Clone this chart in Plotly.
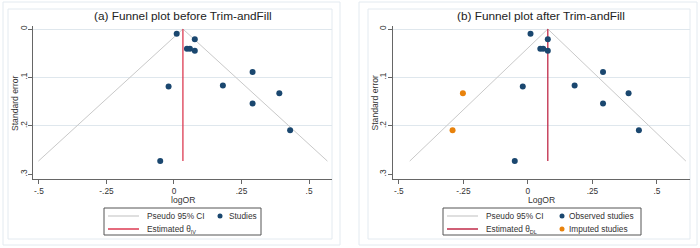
import plotly.graph_objects as go

# ---------------- data ----------------
se_obs = [0.010, 0.021, 0.041, 0.041, 0.045, 0.089, 0.119, 0.117, 0.133, 0.154, 0.209, 0.273]
logor_obs = [0.010, 0.077, 0.048, 0.059, 0.077, 0.291, -0.020, 0.181, 0.390, 0.291, 0.430, -0.051]

se_imp = [0.133, 0.209]
logor_imp = [-0.252, -0.292]

theta_a = 0.033   # estimated theta (IV), panel a
theta_b = 0.077   # estimated theta (DL), panel b

funnel_se = [0.273, 0.0, 0.273]
funnel_x_a = [-0.502, theta_a, 0.568]
funnel_x_b = [-0.458, theta_b, 0.612]
theta_se = [0.0, 0.273]

xtick_vals = [-0.5, -0.25, 0, 0.25, 0.5]
xtick_text = ["-.5", "-.25", "0", ".25", ".5"]
ytick_vals = [0, 0.1, 0.2, 0.3]
ytick_text = ["0", ".1", ".2", ".3"]
grid_vals = [0, 0.1, 0.2]

W, H = 700, 248
NAVY = "#1a476f"
ORANGE = "#e8820c"
GRAYLINE = "#c9c9c9"
RED_A = "#dc3a52"
RED_B = "#c02a48"
FONT = "Liberation Sans, Arial, sans-serif"
TXT = "#333333"

fig = go.Figure()

# panel a
fig.add_trace(go.Scatter(x=funnel_x_a, y=funnel_se, mode="lines",
                         line=dict(color=GRAYLINE, width=1), name="Pseudo 95% CI",
                         xaxis="x", yaxis="y"))
fig.add_trace(go.Scatter(x=[theta_a, theta_a], y=theta_se, mode="lines",
                         line=dict(color=RED_A, width=1.3), name="Estimated θ IV",
                         xaxis="x", yaxis="y"))
fig.add_trace(go.Scatter(x=logor_obs, y=se_obs, mode="markers",
                         marker=dict(color=NAVY, size=6), name="Studies",
                         xaxis="x", yaxis="y"))

# panel b
fig.add_trace(go.Scatter(x=funnel_x_b, y=funnel_se, mode="lines",
                         line=dict(color=GRAYLINE, width=1), name="Pseudo 95% CI",
                         xaxis="x2", yaxis="y2"))
fig.add_trace(go.Scatter(x=[theta_b, theta_b], y=theta_se, mode="lines",
                         line=dict(color=RED_B, width=1.3), name="Estimated θ DL",
                         xaxis="x2", yaxis="y2"))
fig.add_trace(go.Scatter(x=logor_obs, y=se_obs, mode="markers",
                         marker=dict(color=NAVY, size=6), name="Observed studies",
                         xaxis="x2", yaxis="y2"))
fig.add_trace(go.Scatter(x=logor_imp, y=se_imp, mode="markers",
                         marker=dict(color=ORANGE, size=6), name="Imputed studies",
                         xaxis="x2", yaxis="y2"))

ydom = [1 - 179 / H, 1 - 26 / H]

def xax(dom, rng):
    return dict(domain=dom, range=rng, tickvals=xtick_vals, ticktext=xtick_text,
                ticks="outside", ticklen=4, tickcolor="#666", tickwidth=1,
                showline=True, linecolor="#666", linewidth=1, showgrid=False, zeroline=False,
                tickfont=dict(size=8.3, color=TXT, family=FONT))

def yax(anchor):
    return dict(domain=ydom, range=[0.31, -0.0062], tickvals=ytick_vals, ticktext=ytick_text,
                tickangle=-90, ticks="outside", ticklen=4, tickcolor="#666", tickwidth=1,
                showline=True, linecolor="#666", linewidth=1, showgrid=False, zeroline=False,
                ticklabelstandoff=-2,
                minor=dict(tickvals=grid_vals, showgrid=True, gridcolor="#dfe7ed", gridwidth=1, ticks=""),
                tickfont=dict(size=8.3, color=TXT, family=FONT), anchor=anchor)

fig.update_layout(
    width=W, height=H, margin=dict(l=0, r=0, t=0, b=0),
    paper_bgcolor="white", plot_bgcolor="white",
    font=dict(family=FONT, color=TXT),
    xaxis=xax([33 / W, 332 / W], [-0.522, 0.585]),
    yaxis=yax("x"),
    xaxis2=xax([392.7 / W, 690 / W], [-0.524, 0.628]),
    yaxis2=yax("x2"),
    showlegend=False,
)

def px_x(v):
    return v / W

def px_y(v):
    return 1 - v / H

def text(s, x, y, size=8.3, anchor="left", angle=0, color=TXT, xref="paper"):
    fig.add_annotation(text=s, xref=xref, yref="paper", x=x, y=y, xanchor=anchor, yanchor="middle",
                       showarrow=False, textangle=angle, font=dict(size=size, color=color, family=FONT))

# titles
text("(a) Funnel plot before Trim-andFill", 0.5, px_y(16), size=11.8, anchor="center", color="#222", xref="x domain")
text("(b) Funnel plot after Trim-andFill", 0.5, px_y(16), size=11.8, anchor="center", color="#222", xref="x2 domain")

# axis titles
text("logOR", 0.5, px_y(200), size=8.6, anchor="center", xref="x domain")
text("LogOR", 0.5, px_y(200), size=8.6, anchor="center", xref="x2 domain")
text("Standard error", px_x(14.5), px_y(102.5), size=8.6, anchor="center", angle=-90)
text("Standard error", px_x(374), px_y(102.5), size=8.6, anchor="center", angle=-90)

# panel frames and legend boxes (decoration)
FR = "#e3eaf0"
def rect(x0, y0, x1, y1, color, width=1, fill=None):
    fig.add_shape(type="rect", xref="paper", yref="paper", x0=px_x(x0), x1=px_x(x1),
                  y0=px_y(y1), y1=px_y(y0), line=dict(color=color, width=width),
                  fillcolor=fill, layer="below")

rect(3, 2, 340, 245, FR)
rect(8, 9, 332, 239, FR)
rect(359, 2, 697, 245, FR)
rect(368, 9, 690, 239, FR)

# legends (key samples taken from the trace styles)
def legend_line(x0, x1, y, color):
    fig.add_shape(type="line", xref="paper", yref="paper", x0=px_x(x0), x1=px_x(x1),
                  y0=px_y(y), y1=px_y(y), line=dict(color=color, width=1.5))

def legend_dot(x, y, color, r=2.5):
    fig.add_shape(type="circle", xref="paper", yref="paper", x0=px_x(x - r), x1=px_x(x + r),
                  y0=px_y(y + r), y1=px_y(y - r), line=dict(color=color, width=0), fillcolor=color)

R1, R2 = 216, 229
SUB = '<sub><span style="font-size:5.5px">{}</span></sub>'
# legend a
rect(104, 208, 261, 235, "#555")
legend_line(108, 139, R1, "#d4d4d4")
legend_line(108, 139, R2, RED_A)
text("Pseudo 95% CI", px_x(145), px_y(R1))
text("Estimated θ" + SUB.format("IV"), px_x(145), px_y(R2 + 0.5))
legend_dot(220, R1, NAVY)
text("Studies", px_x(227), px_y(R1))

# legend b
rect(443, 208, 641, 235, "#555")
legend_line(447, 478, R1, "#d4d4d4")
legend_line(447, 478, R2, RED_B)
text("Pseudo 95% CI", px_x(484), px_y(R1))
text("Estimated θ" + SUB.format("DL"), px_x(484), px_y(R2 + 0.5))
legend_dot(562, R1, NAVY)
text("Observed studies", px_x(567), px_y(R1))
legend_dot(562, R2, ORANGE)
text("Imputed studies", px_x(567), px_y(R2))

fig.write_html("out.html")
